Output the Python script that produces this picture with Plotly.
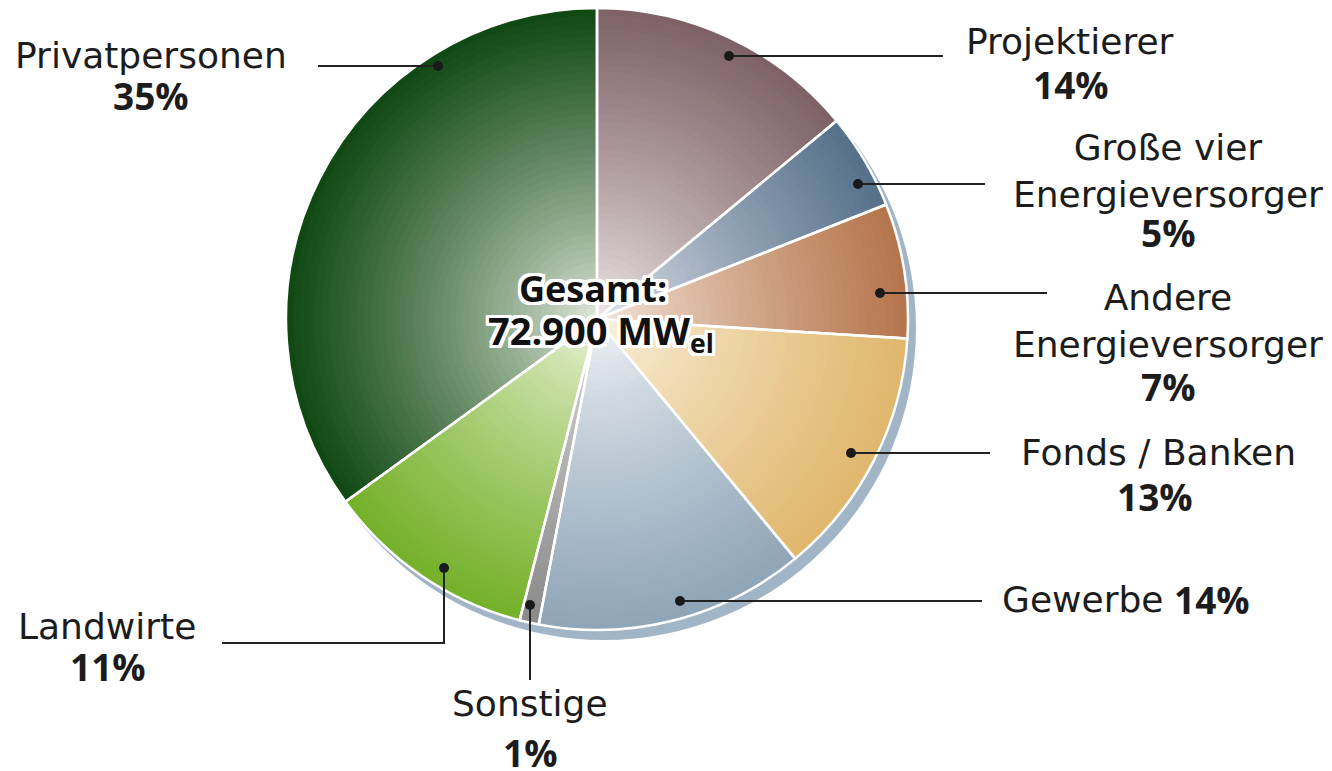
import plotly.graph_objects as go

# ---------------- data ----------------
categories = ["Projektierer", "Große vier<br>Energieversorger", "Andere<br>Energieversorger",
              "Fonds / Banken", "Gewerbe", "Sonstige", "Landwirte", "Privatpersonen"]
values = [14, 5, 7, 13, 14, 1, 11, 35]
total_title = "Gesamt:"
total_label = "72.900 MW"
total_unit_sub = "el"

# ---------------- styles ----------------
edge_colors = ["#7d6166", "#56708a", "#b5754c", "#e0b66c", "#8ea4b7", "#8a8a8a", "#74b028", "#0f4712"]
center_colors = ["#f3eced", "#e6e9f0", "#f7e9df", "#fcf4e3", "#f2f5f8", "#e2e2e2", "#eef5dd", "#e6ede0"]

W, H = 1332, 771
CX, CY, R = 597, 319, 311
N_RINGS = 44
GAMMA = 0.8

# label positions (px, centre of text block); Gewerbe is left-anchored on one line
name_pos = [(1070, 41), (1168, 171), (1168, 321), (1158, 452.5), (1000, 599), (530, 703), (107, 626), (151, 55.5)]
pct_pos = [(1071, 84), (1168, 232), (1168, 386), (1155, 496.5), (1172, 599), (530, 752), (107.5, 666.5), (150.5, 95.5)]
inline_label = "Gewerbe"
leaders = [
    [(729, 56), (943, 56)],
    [(858, 184), (985, 184)],
    [(880, 293), (1047, 293)],
    [(851, 453), (990, 453)],
    [(680, 601), (982, 601)],
    [(530, 605), (530, 680)],
    [(444, 568), (444, 643), (222, 643)],
    [(438, 66), (318, 66)],
]

NAME_FONT = "DejaVu Sans"
NAME_SIZE = 36
PCT_FONT = "Open Sans"
PCT_SIZE = 37
TXT = "#1c1c1c"


def px(x):
    return x / W


def py(y):
    return 1 - y / H


def hex2rgb(h):
    h = h.lstrip("#")
    return tuple(int(h[i:i + 2], 16) for i in (0, 2, 4))


def mix(c0, c1, t):
    a, b = hex2rgb(c0), hex2rgb(c1)
    return "rgb(%d,%d,%d)" % tuple(round(a[i] + (b[i] - a[i]) * t) for i in range(3))


def domain(r):
    return dict(x=[(CX - r) / W, (CX + r) / W], y=[1 - (CY + r) / H, 1 - (CY - r) / H])


fig = go.Figure()

# radial gradient: stacked full pies, largest first
for k in range(N_RINGS):
    frac = 1 - k / N_RINGS
    t = max(frac - 0.5 / N_RINGS, 0) ** GAMMA
    cols = [mix(c, e, t) for c, e in zip(center_colors, edge_colors)]
    fig.add_trace(go.Pie(
        values=values, labels=categories, sort=False, direction="clockwise", rotation=0,
        marker=dict(colors=cols, line=dict(width=0)),
        textinfo="none", hoverinfo="skip", showlegend=False,
        domain=domain(R * frac),
    ))

# white separators on top
fig.add_trace(go.Pie(
    values=values, labels=categories, sort=False, direction="clockwise", rotation=0,
    marker=dict(colors=["rgba(0,0,0,0)"] * len(values), line=dict(color="white", width=2.5)),
    textinfo="none", hoverinfo="skip", showlegend=False,
    domain=domain(R),
))

shapes = []
# drop shadow
SX, SY = 7, 9
shapes.append(dict(type="circle", xref="paper", yref="paper", layer="below",
                   x0=px(CX - R - 1 + SX), x1=px(CX + R + 1 + SX),
                   y0=py(CY + R + 1 + SY), y1=py(CY - R - 1 + SY),
                   fillcolor="#a2b5c7", line=dict(width=0)))

annotations = []
for i, (cat, v) in enumerate(zip(categories, values)):
    pts = leaders[i]
    path = "M " + " L ".join("%f,%f" % (px(x), py(y)) for x, y in pts)
    shapes.append(dict(type="path", xref="paper", yref="paper", path=path,
                       line=dict(color="#222222", width=2)))
    dx, dy = pts[0]
    rr = 5
    shapes.append(dict(type="circle", xref="paper", yref="paper",
                       x0=px(dx - rr), x1=px(dx + rr), y0=py(dy + rr), y1=py(dy - rr),
                       fillcolor="#1a1a1a", line=dict(width=0)))
    anchor = "left" if cat == inline_label else "center"
    nx, ny = name_pos[i]
    annotations.append(dict(x=px(nx), y=py(ny), xref="paper", yref="paper", text=cat,
                            showarrow=False, xanchor=anchor, yanchor="middle", align="center",
                            font=dict(family=NAME_FONT, size=NAME_SIZE, color=TXT)))
    qx, qy = pct_pos[i]
    annotations.append(dict(x=px(qx), y=py(qy), xref="paper", yref="paper", text=f"{v}%",
                            showarrow=False, xanchor=anchor, yanchor="middle", align="center",
                            font=dict(family=PCT_FONT, size=PCT_SIZE, color=TXT, weight=700)))

halo = ", ".join(f"{a}px {b}px 0 white" for a in (-3, -2, 0, 2, 3) for b in (-3, -2, 0, 2, 3))
annotations.append(dict(x=px(593), y=py(288), xref="paper", yref="paper", text=total_title,
                        showarrow=False, xanchor="center", yanchor="middle",
                        font=dict(family=PCT_FONT, size=36, color="#111111", weight=700, shadow=halo)))
annotations.append(dict(x=px(486), y=py(332), xref="paper", yref="paper",
                        text=f"{total_label}<sub>{total_unit_sub}</sub>",
                        showarrow=False, xanchor="left", yanchor="middle",
                        font=dict(family=PCT_FONT, size=38, color="#111111", weight=700, shadow=halo)))

fig.update_layout(
    width=W, height=H, margin=dict(l=0, r=0, t=0, b=0),
    paper_bgcolor="white", plot_bgcolor="white",
    shapes=shapes, annotations=annotations, showlegend=False,
)

fig.write_html("out.html", config={"displayModeBar": False},
               post_script="document.body.style.margin='0px';document.body.style.padding='0px';")
